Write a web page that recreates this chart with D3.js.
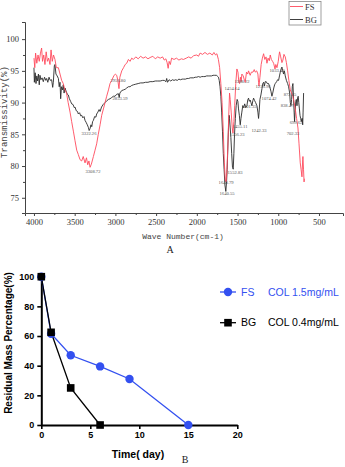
<!DOCTYPE html>
<html><head><meta charset="utf-8">
<script src="https://cdn.jsdelivr.net/npm/d3@7"></script>
<style>body{margin:0;background:#fff}svg{display:block}</style>
</head><body>
<svg id="c" width="345" height="467"></svg>
<script>
// ---------- Panel A : FTIR spectra ----------
const fsWave = [4000,3990,3980,3965,3950,3935,3920,3906,3895,3880,3865,3850,3835,3820,3803,3790,3775,3760,3742,3725,3700,3680,3660,3640,3620,3600,3580,3557,3537,3516,3496,3475,3455,3434,3414,3395,3373,3355,3340,3325,3311,3295,3270,3250,3230,3210,3188,3168,3147,3127,3107,3085,3066,3045,3020,3000,2984,2970,2956,2945,2922,2900,2880,2861,2840,2820,2800,2779,2750,2720,2690,2660,2630,2600,2574,2540,2510,2480,2450,2420,2400,2380,2365,2352,2340,2325,2310,2280,2250,2220,2190,2164,2130,2100,2070,2040,2000,1980,1960,1930,1900,1870,1840,1810,1790,1770,1754,1735,1720,1705,1690,1675,1662,1650,1641,1632,1619,1608,1598,1590,1578,1565,1556,1545,1535,1522,1508,1495,1484,1475,1465,1455,1447,1430,1415,1406,1390,1375,1365,1345,1330,1310,1295,1283,1265,1250,1242,1237,1225,1210,1195,1180,1165,1150,1139,1125,1110,1098,1085,1070,1057,1040,1030,1016,1000,990,984,970,955,943,930,914,900,885,870,852,838,820,805,791,775,758,745,730,720,709,700,697,690,683,680];
const fsT = [97,95.5,97.8,96.2,97.5,96.5,97.8,98.6,96.5,97.5,96,98,96.5,97,96,98.3,96.5,97.5,96.8,95.5,95.5,94.5,93.5,93,92,91.5,90,88.5,87,85.5,84,82.5,81.8,81,80.8,81.5,80.5,81.3,80.2,80.8,79.8,80.3,81.5,82.5,83.5,85,86.5,88,89,90,91,92,93,93.5,94.2,94.5,94.3,93.5,92.2,94,95,95.5,96,96.2,96.8,96.5,97,96.8,97.2,96.9,97.3,97,97.2,96.9,97.1,97.3,96.9,97.2,97,97.2,96.7,96.9,96.3,95.4,96.5,96,97,96.8,97,96.7,96.9,96.8,97,97.2,97,97.4,97.5,97.3,97.8,97.6,97.9,97.6,97.8,97.5,97.9,97.5,97.7,96.8,95.5,93,90,85.5,80.5,77.8,77.5,79,83,88,91.5,90.5,88.5,86,85.2,87,89.5,93,95.3,94.8,93.2,93,94,93.3,94.5,94.2,93.5,93.2,94.8,94.5,95,94.3,94.8,94.8,95.2,94.8,95,94.5,93.2,92.6,94,96,97,97.7,96.8,97.2,96.2,97,96.6,97.5,96.8,96.5,96.2,95.3,96,95.5,96.5,97.5,98,97.2,96.3,96.7,97.6,97.2,96.3,95,93.5,92,91.5,91,90,89,87.5,86,83.5,80.5,79.5,78.3,81,81.5,79.5,77.5,78];
const bgWave = [4000,3995,3985,3975,3965,3955,3945,3935,3926,3915,3900,3885,3870,3855,3844,3830,3815,3800,3783,3770,3762,3750,3742,3730,3715,3700,3690,3680,3672,3662,3650,3640,3630,3619,3605,3590,3578,3565,3550,3537,3520,3505,3496,3480,3465,3455,3440,3425,3414,3400,3385,3373,3360,3345,3332,3322,3311,3300,3290,3280,3270,3255,3240,3230,3215,3200,3188,3170,3150,3127,3105,3085,3066,3045,3025,3004,2985,2963,2953,2945,2922,2900,2880,2861,2840,2820,2800,2779,2750,2720,2690,2660,2630,2600,2574,2540,2510,2480,2450,2420,2400,2380,2370,2360,2340,2320,2300,2280,2260,2240,2220,2200,2180,2164,2140,2120,2100,2080,2060,2040,2020,2000,1980,1959,1940,1920,1900,1880,1860,1840,1820,1800,1780,1760,1750,1734,1725,1715,1705,1695,1685,1675,1665,1655,1644,1635,1627,1619,1611,1603,1598,1590,1582,1572,1562,1553,1545,1537,1527,1517,1505,1496,1488,1478,1467,1458,1447,1436,1426,1412,1400,1385,1375,1365,1355,1345,1335,1324,1312,1303,1290,1278,1262,1250,1242,1235,1225,1213,1200,1190,1180,1170,1160,1148,1135,1119,1105,1090,1078,1068,1055,1045,1037,1020,1008,996,985,975,965,955,945,935,925,914,900,885,873,860,852,844,836,828,820,812,805,800,793,785,778,770,762,755,748,740,733,725,717,710,705,700,695,689];
const bgT = [95.5,93.2,94.7,93,94.2,93.4,94.5,92.8,94.3,93.6,93.9,93.3,94,93.5,93.8,93.2,94,93.5,93.6,92.4,93.2,95.8,96,94.5,94.2,93.8,92.5,93.2,90.6,92.5,92,92.8,91.5,92.3,91.8,91.3,91.2,90.6,90.2,89.8,89.7,89.2,89.3,88.7,88.6,88.2,88.4,87.9,88,87.6,87.8,87.2,86.9,86.5,86.1,85.6,85.9,86.5,86.2,87,87.2,87.8,87.7,88.2,88.5,88.9,88.6,89.3,89.7,90,90.3,90.5,90.6,90.8,91,91,91.3,91.4,90.8,91.5,91.9,92,92.1,92.3,92.5,92.5,92.7,92.8,92.9,93,93.1,93.1,93.2,93.2,93.3,93.3,93.4,93.4,93.4,93.5,93.5,93.3,93.8,93.2,93.6,93.4,93.6,93.5,93.6,93.5,93.7,93.6,93.7,93.7,93.7,93.8,93.8,93.9,93.9,93.9,94,94,94.1,94,94.1,94.1,94.1,94.2,94.2,94.2,94.2,94.3,94.3,94.3,94.2,94,93.5,92.5,91,88.5,85.5,82,79.5,77,76,77.5,79.5,83,86,88,87.5,86,84.5,82,79.8,79.5,82,85,87.5,89.5,90.5,90.2,89,88,86.5,87.5,88.5,89.5,89.2,89.8,89.2,89.5,90.4,90.7,90.2,90.4,90,89.5,90.3,90.7,90.3,90,89.5,88.5,87.5,88.5,90.5,91.2,92.2,93,93.2,92.6,93.3,93.3,93,93,92.5,91.8,91,91.5,92.3,92.8,93,93.3,93.6,93.5,94.2,94.8,95.3,95.6,95,94.5,95,94.2,93.5,93,92.5,91.5,90,89.5,90.5,92.5,93,90.5,88.5,87,88.5,90.2,90.5,89.5,90.8,91,90,89,88,87.5,87,87.5,87.5,86.5,88.5,91.5];
const waveTicks = [4000,3500,3000,2500,2000,1500,1000,500];
const transTicks = [75,80,85,90,95,100];
const peakLabels = ["3322.26","3308.72","2956.80","2853.59","1640.79","1640.55","1552.83","1556.23","1455.11","1454.64","1388.22","1401.35","1242.33","1236.96","1074.42","1033.44","872.85","838.47","699.62","702.33"];
const peakLabelWave = [3324,3275,2968,2943,1641,1629,1531,1506,1469,1568,1445,1359,1236,1187,1113,1015,855,892,781,818];
const peakLabelT = [85.1,79.1,93.4,90.6,77.4,75.6,78.9,84.9,86.2,92.1,93.2,89.3,85.5,92.5,90.6,95.0,91.2,89.5,86.8,85.1];
const specNames = ["FS","BG"];
const specColors = ["#ff4a5c","#2a2a2a"];

// ---------- Panel B : degradation ----------
const days = [0,1,3,6,9,15];
const fsMass = [100,61.5,47,39.5,31,0];
const bgDays = [0,1,3,6];
const bgMass = [100,62.5,25,0];
const dayTicks = [0,5,10,15,20];
const massTicks = [0,20,40,60,80,100];
const legendB = [{name:"FS",conc:"COL 1.5mg/mL",color:"#3350f0",shape:"circle"},
                 {name:"BG",conc:"COL 0.4mg/mL",color:"#000000",shape:"square"}];

const svg = d3.select("#c");

// ===== Panel A =====
const xA = d3.scaleLinear().domain([4110,205]).range([25,343]);
const yA = d3.scaleLinear().domain([72.6,102.7]).range([213,22]);
const gA = svg.append("g");
const serif = "'Liberation Serif', 'DejaVu Serif', serif";
const mono = "'Liberation Mono', 'DejaVu Sans Mono', monospace";

const axA = gA.append("g").attr("transform","translate(0,213)")
  .call(d3.axisBottom(xA).tickValues(waveTicks).tickSize(3).tickFormat(d3.format("d")));
gA.append("g").attr("transform","translate(0,213)")
  .call(d3.axisBottom(xA).tickValues(d3.range(3750,300,-500)).tickSize(2).tickFormat(""))
  .call(g=>g.select(".domain").remove());
const ayA = gA.append("g").attr("transform","translate(25,0)")
  .call(d3.axisLeft(yA).tickValues(transTicks).tickSize(3));
gA.append("g").attr("transform","translate(25,0)")
  .call(d3.axisLeft(yA).tickValues([77.5,82.5,87.5,92.5,97.5]).tickSize(2).tickFormat(""))
  .call(g=>g.select(".domain").remove());
gA.selectAll(".domain").attr("stroke","#444");
gA.selectAll(".tick line").attr("stroke","#444");
gA.selectAll(".tick text").attr("font-family",serif).attr("font-size",8.5).attr("fill","#333");

const lineA = (w,t)=>d3.line().x((d,i)=>xA(w[i])).y((d,i)=>yA(t[i]))(w);
gA.append("path").attr("d",lineA(bgWave,bgT)).attr("fill","none").attr("stroke",specColors[1]).attr("stroke-width",0.9);
gA.append("path").attr("d",lineA(fsWave,fsT)).attr("fill","none").attr("stroke",specColors[0]).attr("stroke-width",0.9);

gA.selectAll("text.pk").data(peakLabels).join("text").attr("class","pk")
  .attr("x",(d,i)=>xA(peakLabelWave[i])).attr("y",(d,i)=>yA(peakLabelT[i]))
  .attr("text-anchor","middle").attr("dominant-baseline","middle")
  .attr("font-family",serif).attr("font-size",4.6).attr("fill","#555").text(d=>d);

gA.append("text").attr("transform","translate(7,112) rotate(-90)").attr("text-anchor","middle")
  .attr("font-family",mono).attr("font-size",9).attr("fill","#444").text("Transmissivity(%)");
gA.append("text").attr("x",183).attr("y",239).attr("text-anchor","middle")
  .attr("font-family",mono).attr("font-size",8).attr("fill","#444").text("Wave Number(cm-1)");
gA.append("text").attr("x",170).attr("y",253).attr("text-anchor","middle")
  .attr("font-family",serif).attr("font-size",10).attr("fill","#222").text("A");

// legend A
const lg = gA.append("g");
lg.append("rect").attr("x",289).attr("y",1.5).attr("width",32).attr("height",23.5)
  .attr("fill","#fff").attr("stroke","#888").attr("stroke-width",0.8);
specNames.forEach((n,i)=>{
  const y = 6.5 + i*13;
  lg.append("line").attr("x1",290).attr("x2",303).attr("y1",y).attr("y2",y).attr("stroke",specColors[i]).attr("stroke-width",0.9);
  lg.append("text").attr("x",305).attr("y",y+3).attr("font-family",serif).attr("font-size",8.5).attr("fill","#333").text(n);
});

// ===== Panel B =====
const xB = d3.scaleLinear().domain([0,20]).range([41.3,237.3]);
const yB = d3.scaleLinear().domain([0,100]).range([425,276.7]);
const gB = svg.append("g");
const sans = "'Liberation Sans', Arial, sans-serif";

gB.append("g").attr("transform","translate(0,425)")
  .call(d3.axisBottom(xB).tickValues(dayTicks).tickSize(4).tickSizeOuter(0));
gB.append("g").attr("transform","translate(41.3,0)")
  .call(d3.axisLeft(yB).tickValues(massTicks).tickSize(4).tickSizeOuter(0));
gB.selectAll(".domain").attr("stroke","#000").attr("stroke-width",2);
gB.selectAll(".tick line").attr("stroke","#000").attr("stroke-width",1.6);
gB.selectAll(".tick text").attr("font-family",sans).attr("font-weight","bold").attr("font-size",9).attr("fill","#000");

const lineB = (xs,ys)=>d3.line().x((d,i)=>xB(xs[i])).y((d,i)=>yB(ys[i]))(xs);
gB.append("path").attr("d",lineB(days,fsMass)).attr("fill","none").attr("stroke",legendB[0].color).attr("stroke-width",1.3);
gB.append("path").attr("d",lineB(bgDays,bgMass)).attr("fill","none").attr("stroke",legendB[1].color).attr("stroke-width",1.3);
gB.selectAll("circle.fs").data(days).join("circle").attr("class","fs")
  .attr("cx",d=>xB(d)).attr("cy",(d,i)=>yB(fsMass[i])).attr("r",4.2).attr("fill",legendB[0].color);
gB.selectAll("rect.bg").data(bgDays).join("rect").attr("class","bg")
  .attr("x",d=>xB(d)-3.8).attr("y",(d,i)=>yB(bgMass[i])-3.8).attr("width",7.6).attr("height",7.6).attr("fill",legendB[1].color);

gB.append("text").attr("transform","translate(12,343) rotate(-90)").attr("text-anchor","middle")
  .attr("font-family",sans).attr("font-weight","bold").attr("font-size",10).attr("fill","#000").text("Residual Mass Percentage(%)");
gB.append("text").attr("x",138).attr("y",458).attr("text-anchor","middle")
  .attr("font-family",sans).attr("font-weight","bold").attr("font-size",10.5).attr("fill","#000").text("Time( day)");
gB.append("text").attr("x",185).attr("y",463).attr("text-anchor","middle")
  .attr("font-family",serif).attr("font-size",10).attr("fill","#222").text("B");

legendB.forEach((l,i)=>{
  const y = 292 + i*30.7;
  gB.append("line").attr("x1",220).attr("x2",236).attr("y1",y).attr("y2",y).attr("stroke",l.color).attr("stroke-width",1.3);
  if(l.shape==="circle") gB.append("circle").attr("cx",228).attr("cy",y).attr("r",4.2).attr("fill",l.color);
  else gB.append("rect").attr("x",224.2).attr("y",y-3.8).attr("width",7.6).attr("height",7.6).attr("fill",l.color);
  gB.append("text").attr("x",241).attr("y",y+3.7).attr("font-family",sans).attr("font-size",10.5).attr("fill",l.color).text(l.name);
  gB.append("text").attr("x",268).attr("y",y+3.7).attr("font-family",sans).attr("font-size",10.5).attr("fill",l.color).text(l.conc);
});
</script>
</body></html>
